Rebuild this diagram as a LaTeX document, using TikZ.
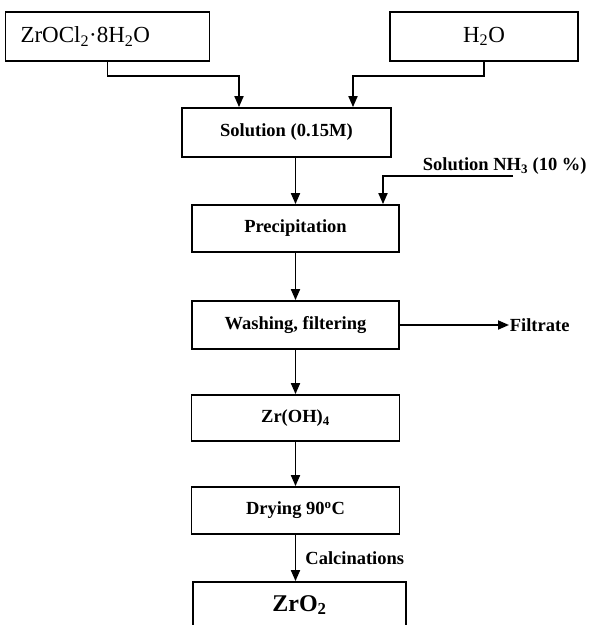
\documentclass[tikz,border=0pt]{standalone}
\usepackage{fontspec}
\setmainfont{Liberation Serif}
\usetikzlibrary{arrows.meta, positioning}

\begin{document}
\begin{tikzpicture}[x=1pt, y=-1pt, line width=1.8pt, >={Triangle[length=11pt,width=9pt]},
	box/.style={draw, rectangle, inner sep=0pt, font=\fontsize{18.5}{22}\selectfont\bfseries},
	topbox/.style={draw, rectangle, inner sep=0pt, minimum height=49pt, font=\fontsize{23}{27}\selectfont},
	lbl/.style={inner sep=0pt, font=\fontsize{18.5}{22}\selectfont\bfseries}]
	\useasboundingbox (0,0) rectangle (590,625);
	% Starting materials
	\node[topbox, text width=174pt, inner xsep=15pt, align=left] (zrocl) at (107.5,36.5) {ZrOCl\textsubscript{2}·8H\textsubscript{2}O};
	\node[topbox, minimum width=188pt] (water) at (484,36.5) {H\textsubscript{2}O};
	% Process steps
	\node[box, minimum width=209pt, minimum height=49pt] (sol) at (286.5,132.5) {Solution (0.15M)};
	\node[box, minimum width=207pt, minimum height=47pt] (prec) at (295.5,228.5) {Precipitation};
	\node[box, minimum width=207pt, minimum height=48pt] (wash) at (295.5,325) {Washing, filtering};
	\node[box, minimum width=208pt, minimum height=46pt] (zroh) at (295.5,418) {Zr(OH)\textsubscript{4}};
	\node[box, minimum width=208pt, minimum height=47pt] (dry) at (295.5,510.5) {Drying 90\textsuperscript{o}C};
	\node[draw, rectangle, inner sep=0pt, minimum width=213pt, minimum height=46pt,
		font=\fontsize{24}{28}\selectfont\bfseries] (zro) at (299.5,605) {ZrO\textsubscript{2}};
	% Side labels
	\node[lbl, anchor=west] (nh) at (422,166) {Solution NH\textsubscript{3} (10 \%)};
	\node[lbl, anchor=west] (filt) at (509,325) {Filtrate};
	% Joints
	\coordinate (j1) at (239,76);
	\coordinate (j2) at (353,76);
	\coordinate (nhin) at (513,176);
	\coordinate (j3) at (383,176);
	% Connectors
	\draw[->] (zrocl.south) |- (j1) -- (j1 |- sol.north);
	\draw[->] (water.south) |- (j2) -- (j2 |- sol.north);
	\draw[->] (prec.north |- sol.south) -- (prec.north);
	\draw[->] (nhin) -- (j3) -- (j3 |- prec.north);
	\draw[->] (prec.south) -- (wash.north);
	\draw[->] (wash.east) -- (filt.west);
	\draw[->] (wash.south) -- (zroh.north);
	\draw[->] (zroh.south) -- (dry.north);
	\draw[->] (dry.south) -- (dry.south |- zro.north) node[lbl, midway, anchor=west, xshift=9pt] {Calcinations};
\end{tikzpicture}
\end{document}
